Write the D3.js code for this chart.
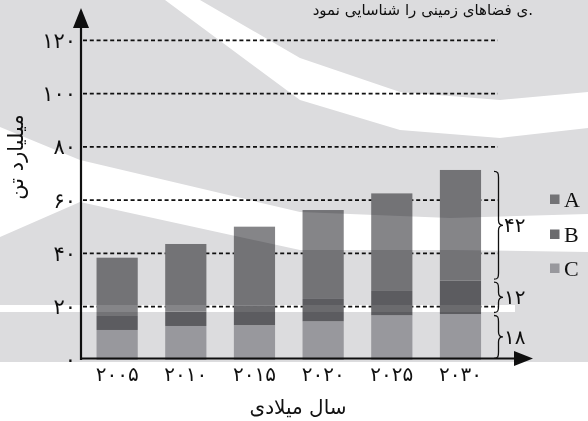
<!DOCTYPE html>
<html><head><meta charset="utf-8">
<script src="https://cdn.jsdelivr.net/npm/d3@7"></script>
<style>
html,body{margin:0;padding:0;background:#fff;}
svg{display:block;}
</style></head><body>
<svg id="chart" width="588" height="421"></svg>
<script>
// ---- data ----
const categories = ["۲۰۰۵","۲۰۱۰","۲۰۱۵","۲۰۲۰","۲۰۲۵","۲۰۳۰"];
const seriesKeys = ["C","B","A"];           // stacking order bottom -> top
const legendKeys = ["A","B","C"];
const valuesA = [21.9, 25.45, 29.8, 33.4, 36.65, 41.6];
const valuesB = [5.25, 5.35, 7.15, 8.4, 9.15, 12.5];
const valuesC = [11.2, 12.7, 13.05, 14.45, 16.7, 17.2];
const yTicks = [0, 20, 40, 60, 80, 100, 120];
const yTickLabels = ["۰","۲۰","۴۰","۶۰","۸۰","۱۰۰","۱۲۰"];
const braceLabels = {C:"۱۸", B:"۱۲", A:"۴۲"};
const yTitle = "میلیارد تن";
const xTitle = "سال میلادی";
const headText = "ی فضاهای زمینی را شناسایی نمود.";

const colors = {A:"#858588", B:"#6b6b6e", C:"#b0b0b4"};
const FA = "'DejaVu Sans', sans-serif";

const rows = categories.map((c,i)=>({cat:c, A:valuesA[i], B:valuesB[i], C:valuesC[i]}));
const stacked = d3.stack().keys(seriesKeys)(rows);

const svg = d3.select("#chart");
const y = d3.scaleLinear().domain([0,120]).range([359.8, 40.3]);
const x = d3.scaleBand().domain(categories).range([82.8, 494.8]).paddingInner(0.4).paddingOuter(0.2);

svg.append("rect").attr("width",588).attr("height",421).attr("fill","#fff");

// head text
svg.append("text").attr("x",533).attr("y",15).attr("text-anchor","end")
  .attr("font-family",FA).attr("font-size",15).attr("fill","#111").text(headText);

// dashed grid lines
svg.append("g").selectAll("line").data(yTicks.filter(d=>d>0)).join("line")
  .attr("x1",83).attr("x2",498).attr("y1",d=>y(d)).attr("y2",d=>y(d))
  .attr("stroke","#111").attr("stroke-width",1.8).attr("stroke-dasharray","4,2.8");

// bars
svg.append("g").selectAll("g").data(stacked).join("g")
  .attr("fill",d=>colors[d.key])
  .selectAll("rect").data(d=>d).join("rect")
  .attr("x",d=>x(d.data.cat)).attr("width",x.bandwidth())
  .attr("y",d=>y(d[1])).attr("height",d=>y(d[0])-y(d[1]));

// y tick labels via axis
const yAxis = d3.axisLeft(y).tickValues(yTicks).tickFormat((d,i)=>yTickLabels[i]).tickSize(0).tickPadding(0);
const gy = svg.append("g").attr("transform","translate(76,0)").call(yAxis);
gy.select(".domain").remove();
gy.selectAll("text").attr("font-family",FA).attr("font-size",21).attr("fill","#111").attr("dy","0.34em");

// x tick labels via axis
const xAxis = d3.axisBottom(x).tickSize(0).tickPadding(0);
const gx = svg.append("g").attr("transform","translate(0,365)").call(xAxis);
gx.select(".domain").remove();
gx.selectAll("text").attr("font-family",FA).attr("font-size",20).attr("fill","#111").attr("dy","0.8em");

// axes lines with arrows
svg.append("line").attr("x1",81).attr("x2",81).attr("y1",360).attr("y2",24).attr("stroke","#111").attr("stroke-width",2.2);
svg.append("path").attr("d","M73,28 L81,8 L89,28 Z").attr("fill","#111");
svg.append("line").attr("x1",80).attr("x2",516).attr("y1",358.5).attr("y2",358.5).attr("stroke","#111").attr("stroke-width",2.2);
svg.append("path").attr("d","M514,351 L533,358.5 L514,366 Z").attr("fill","#111");

// axis titles
svg.append("text").attr("transform","translate(23,157) rotate(-90)").attr("text-anchor","middle")
  .attr("font-family",FA).attr("font-size",21).attr("fill","#111").text(yTitle);
svg.append("text").attr("x",298).attr("y",414).attr("text-anchor","middle")
  .attr("font-family",FA).attr("font-size",20).attr("fill","#111").text(xTitle);

// braces for the last category
const lastIdx = categories.length-1;
function brace(xb, y0, y1, w){
  const m=(y0+y1)/2, h=xb+w*0.5;
  return `M${xb},${y0} C${xb+w*0.45},${y0} ${h},${y0+2} ${h},${y0+6} L${h},${m-5} C${h},${m-1.5} ${xb+w*0.75},${m} ${xb+w},${m} C${xb+w*0.75},${m} ${h},${m+1.5} ${h},${m+5} L${h},${y1-6} C${h},${y1-2} ${xb+w*0.45},${y1} ${xb},${y1}`;
}
const bg = svg.append("g");
stacked.forEach(s=>{
  const d = s[lastIdx];
  const y0 = y(d[1])+1.5, y1 = y(d[0])-1.5;
  bg.append("path").attr("d",brace(494,y0,y1,9)).attr("fill","none").attr("stroke","#111").attr("stroke-width",1.3);
  bg.append("text").attr("x",504).attr("y",(y0+y1)/2+7).attr("font-family",FA).attr("font-size",20).attr("fill","#111").text(braceLabels[s.key]);
});

// legend
const lg = svg.append("g").selectAll("g").data(legendKeys).join("g")
  .attr("transform",(d,i)=>`translate(550,${[199,234,268][i]})`);
lg.append("rect").attr("x",0).attr("y",-4.5).attr("width",9.5).attr("height",9.5).attr("fill",d=>colors[d]);
lg.append("text").attr("x",14).attr("y",7.5).attr("font-family","'Liberation Serif', serif").attr("font-size",22).attr("fill","#111").text(d=>d);

// watermark overlay (gray, multiplied), with white swooshes as holes
const holes = [
  "M165,0 L200,0 L300,58 L400,92 L500,100 L588,92 L588,128 L500,138 L400,130 L300,100 Z",
  "M0,127 L80,160 L300,212 L450,218 L588,214 L588,252 L450,250 L300,250 L80,202 L0,237 Z",
  "M0,305 L515,305 L515,312 L0,312 Z"
];
svg.append("path").attr("d","M0,0 H588 V362 H0 Z " + holes.join(" "))
  .attr("fill","#dcdcde").attr("fill-rule","evenodd").style("mix-blend-mode","multiply");
</script>
</body></html>
